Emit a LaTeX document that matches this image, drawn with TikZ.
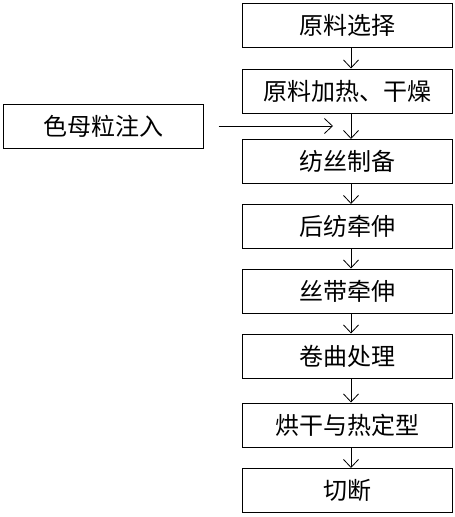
\documentclass[tikz,border=0pt]{standalone}
\usepackage{fontspec}
\newfontfamily\cjk{Noto Sans CJK SC}
\usepackage{tikz}
\usetikzlibrary{arrows.meta}

\begin{document}
\begin{tikzpicture}[x=1pt,y=-1pt,->,>={Straight Barb[length=8pt,width=15pt]},line width=0.8pt]
    \tikzstyle{step box}=[draw,line width=1pt,minimum width=210pt,minimum height=44pt,inner sep=0pt,font=\cjk\fontsize{24}{28}\selectfont]
    \tikzstyle{side box}=[step box,minimum width=200pt]
    \useasboundingbox (0,0) rectangle (455,517);

    % Draw the process steps
    \node[step box] (S-1) at (347,25.5) {原料选择};
    \node[step box] (S-2) at (347,91) {原料加热、干燥};
    \node[step box] (S-3) at (347,161.5) {纺丝制备};
    \node[step box] (S-4) at (347,226.5) {后纺牵伸};
    \node[step box] (S-5) at (347,291) {丝带牵伸};
    \node[step box] (S-6) at (347,356) {卷曲处理};
    \node[step box] (S-7) at (347,425) {烘干与热定型};
    \node[step box] (S-8) at (347,490.5) {切断};
    \node[side box] (M) at (103,126) {色母粒注入};

    \foreach \a/\b in {1/2,2/3,3/4,4/5,5/6,6/7,7/8}
        \path ([xshift=4pt]S-\a.south) edge ([xshift=4pt]S-\b.north);

    % Feed of the colour masterbatch
    \coordinate (M-in) at (333,126);
    \path ([xshift=15pt]M.east) edge (M-in);
\end{tikzpicture}
\end{document}
